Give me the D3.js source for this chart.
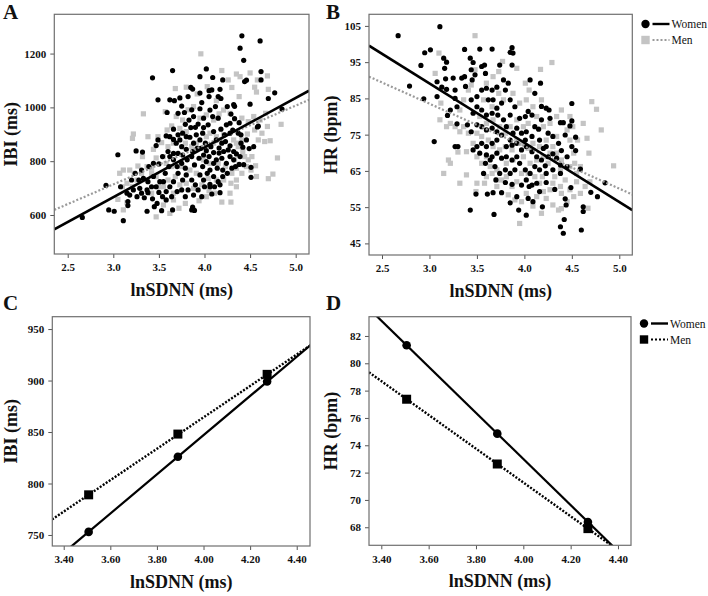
<!DOCTYPE html>
<html><head><meta charset="utf-8">
<script src="https://cdn.jsdelivr.net/npm/d3@7"></script>
<style>
body{margin:0;background:#fff;}
svg{display:block;font-family:"Liberation Serif","Times New Roman",serif;}
</style></head>
<body><svg id="c" width="708" height="596"></svg>
<script>
// ---------- DATA ----------
// Panel A: lnSDNN vs IBI (ms)
const womenA = [[2.66,591],[2.92,710],[2.95,619],[3.01,614],[3.05,824],[3.08,705],[3.11,579],[3.15,681],[3.16,650],[3.16,635],[3.25,838],[3.32,834],[3.37,614],[3.43,1110],[3.49,1028],[3.65,1137],[3.62,1028],[3.67,1025],[3.75,1005],[3.85,1074],[3.87,1068],[3.95,1114],[4.02,1143],[4.09,1111],[4.17,1067],[4.20,1102],[4.41,1266],[4.39,1220],[4.43,1175],[4.61,1247],[4.62,1133],[4.62,1102],[4.44,1096],[4.46,1101],[4.50,1012],[4.70,1033],[4.77,1054],[4.85,994],[4.59,930],[4.58,927],[4.49,847],[4.54,854],[4.51,740],[4.51,777],[4.43,787],[4.38,788],[4.08,678],[4.17,683],[4.06,714],[3.86,619],[3.89,617],[3.87,629],[3.65,619],[3.53,616],[3.48,643],[3.45,631],[3.43,660],[3.38,683],[3.34,664],
[3.59,981],[3.71,978],[3.78,981],[3.86,991],[3.95,995],[4.06,990],[4.09,966],[4.15,960],[4.18,1033],[4.05,1040],[4.08,1065],[4.05,1062],[4.29,975],[4.38,943],[4.33,958],[4.25,1003],[4.32,1010],[4.33,1004],[3.90,926],[3.93,938],[3.85,925],[3.79,937],[3.66,919],[3.62,891],[3.58,894],[3.49,879],[3.47,858],
[3.66,881],[3.69,867],[3.73,879],[3.75,854],[3.80,844],[3.84,889],[3.91,898],[3.95,879],[3.98,904],[4.01,867],[4.02,839],[4.07,854],[4.10,832],[4.13,879],[4.16,849],[4.19,867],[4.23,873],[4.28,857],[4.32,836],[4.35,827],[4.40,867],[4.42,852],[4.37,904],[4.28,904],[4.22,898],[4.18,919],[4.10,910],[4.04,935],[3.99,925],[3.88,867],[3.92,848],[3.60,836],[3.54,817],[3.50,790],[3.44,792],[3.39,780],[3.31,767],[3.24,755],[3.20,730],[3.28,730],[3.33,736],[3.38,724],[3.44,743],[3.47,705],[3.51,724],[3.57,755],[3.61,780],[3.66,805],[3.70,780],[3.75,792],[3.79,774],[3.81,805],[3.86,817],[3.89,786],[3.94,811],[3.98,780],[4.02,798],[4.06,767],[4.10,792],[4.14,774],[4.19,811],[4.24,792],[4.28,817],[4.32,805],[4.25,755],[4.20,743],[4.15,724],[4.10,743],[4.03,755],[3.99,730],[3.95,749],[3.90,712],[3.86,730],[3.80,749],[3.76,730],[3.71,755],[3.66,724],[3.62,705],[3.58,687],[3.54,668],[3.58,656],[3.64,668],[3.70,687],[3.75,693],[3.79,668],[3.82,693],[3.88,674],[3.93,693],[3.97,668],[4.00,705],[4.06,705],[4.11,705],[4.17,712],[4.20,767],[4.34,780],[4.39,817],[4.30,774],[3.42,705],[3.37,693],[3.31,681],[3.26,668],[3.29,699],[3.22,693],[3.18,674],[3.50,684],[3.55,724],[3.66,829],[3.71,829],[3.76,823],[3.62,817],[3.87,836],[3.96,848],[3.99,823],[4.05,817],[4.13,805],[4.16,830],[4.21,836],[4.26,842],[3.80,891],[3.76,904],[3.71,898],[3.83,953],[3.88,966],[3.99,960],[4.12,1003],[3.97,1018],[3.73,1035],[3.82,1040],[3.95,1053],[4.15,1040],[4.24,935],[4.28,941],[4.31,916],[4.40,898],[4.46,879]];
const menA = [[3.96,1199],[4.19,1137],[4.35,1124],[4.39,1114],[4.50,1128],[4.58,1102],[4.69,1117],[4.70,1067],[4.55,1075],[4.57,1057],[4.26,1102],[4.30,1074],[4.38,1040],[4.13,1025],[4.03,1077],[3.92,1050],[3.80,1075],[3.68,1070],[3.57,984],[3.33,976],[3.22,901],[3.21,885],[3.38,891],[3.49,891],[3.44,844],[3.53,869],[3.07,755],[3.11,767],[3.05,658],[3.11,619],[3.18,767],[3.23,755],[3.27,782],[3.32,817],[3.37,730],[3.42,774],[3.47,593],[3.47,812],[3.50,705],[3.55,637],[3.62,606],[3.66,656],[3.72,625],[3.79,643],[3.94,653],[4.05,690],[4.19,648],[4.29,648],[4.21,730],[4.29,718],[4.33,805],[4.35,774],[4.44,817],[4.48,805],[4.52,817],[4.56,783],[4.59,879],[4.63,904],[4.66,873],[4.72,876],[4.70,735],[4.75,752],[4.80,812],[4.84,937],[4.67,978],[4.69,929],[4.61,953],[4.54,966],[4.48,947],[4.41,960],[4.55,916],[4.47,901],[4.41,879],[4.35,867],[4.28,978],[4.21,990],[4.16,976],[4.10,953],[4.02,972],[3.95,960],[3.88,1003],[3.82,991],[3.76,953],[3.69,966],[3.64,931],[3.59,916],[3.73,922],[3.80,910],[4.02,891],[4.06,904],[4.13,891],[4.17,879],[4.21,898],[4.32,879],[4.37,854],[4.42,836],[4.10,867],[3.91,867],[3.86,854],[3.79,867],[3.66,867],[3.60,854],[3.55,817],[3.58,792],[3.64,780],[3.75,780],[3.84,767],[3.91,755],[3.99,805],[4.06,792],[4.15,792],[4.23,780],[4.30,755],[4.35,730],[4.41,755],[4.46,780],[4.51,767],[4.57,743],[4.13,730],[4.04,736],[3.97,712],[3.88,699],[3.80,718],[3.73,712],[3.68,743],[3.60,730],[3.55,705],[3.47,743],[3.42,755],[3.37,780],[3.31,755],[3.26,730],[3.21,705],[3.15,718],[3.10,705],[3.42,681],[3.66,681],[4.02,668],[4.11,681],[4.28,681],[4.35,705],[3.15,646]];
const fitA_x = [2.353, 5.146];
const fitA_women = [547, 1062];
const fitA_men = [619, 1028];

// Panel B: lnSDNN vs HR (bpm)
const womenB = [[2.67,102.3],[2.79,88.4],[2.91,94.1],[2.94,84.9],[2.95,97.6],[3.01,98.4],[3.11,104.8],[3.05,73.1],[3.08,89.6],[3.08,85.5],[3.13,88.1],[3.15,96.1],[3.16,93.3],[3.18,95.0],[3.17,90.4],[3.18,87.5],[3.19,80.3],[3.22,81.8],[3.25,90.6],[3.27,87.3],[3.27,85.0],[3.29,82.7],[3.29,78.0],[3.27,71.7],[3.30,71.7],[3.37,98.5],[3.34,90.6],[3.37,91.0],[3.38,88.3],[3.43,96.1],[3.44,92.9],[3.46,94.9],[3.45,90.1],[3.48,91.5],[3.53,98.6],[3.55,93.8],[3.58,94.2],[3.59,91.9],[3.66,98.6],[3.49,58.6],[3.43,54.2],[3.61,58.6],[3.67,59.0],[3.68,53.0],[3.70,62.5],[3.76,59.0],[3.80,61.8],[3.85,56.2],[3.87,61.3],[3.94,54.2],[3.97,61.1],[4.02,52.8],[4.04,57.4],[4.05,60.7],[4.09,56.5],[4.13,61.6],[4.16,59.3],[4.19,55.1],[4.22,66.4],[4.32,59.9],[4.38,49.6],[4.41,47.8],[4.43,57.3],[4.42,51.6],[4.44,55.6],[4.49,60.4],[4.50,71.7],[4.54,74.3],[4.50,78.8],[4.50,83.6],[4.59,65.5],[4.60,48.7],[4.62,55.1],[4.62,53.8],[4.70,59.1],[4.77,57.9],[4.48,77.4],[4.41,78.3],[4.38,78.3],[4.43,74.9],[4.39,70.6],[4.36,72.6],[4.30,69.7],[4.25,68.9],[4.20,71.2],[4.16,73.5],[4.15,76.5],[4.11,77.2],[4.18,79.1],[4.23,82.3],[4.26,81.8],[4.27,79.5],[4.17,89.2],[4.06,90.1],[4.11,86.4],[4.18,82.8],[4.08,80.4],[4.04,81.4],[4.01,80.0],[3.95,79.5],[3.92,76.8],[3.88,75.4],[3.85,73.5],[3.81,71.7],[3.81,77.2],[3.78,79.1],[3.85,80.4],[3.90,82.7],[3.85,84.6],[3.80,87.3],[3.83,89.2],[3.78,90.1],[3.87,94.2],[3.85,97.7],[3.87,99.0],[3.88,97.5],[3.74,94.2],[3.71,88.1],[3.66,87.3],[3.62,84.6],[3.67,84.6],[3.71,82.3],[3.76,83.7],[3.72,80.4],[3.66,80.9],[3.60,80.4],[3.55,81.8],[3.50,82.7],[3.46,80.9],[3.44,84.6],[3.50,85.5],[3.55,87.3],[3.60,87.8],[3.40,77.7],[3.44,75.8],[3.50,77.7],[3.55,77.2],[3.60,76.3],[3.66,76.8],[3.71,75.8],[3.76,74.9],[3.71,73.5],[3.66,72.6],[3.60,71.7],[3.55,72.6],[3.50,71.7],[3.46,70.8],[3.53,69.9],[3.60,69.4],[3.66,68.9],[3.71,69.9],[3.76,68.5],[3.81,68.9],[3.87,68.0],[3.92,68.9],[3.97,70.8],[4.02,71.7],[4.08,70.3],[4.13,68.9],[4.18,68.0],[4.01,73.5],[3.97,75.4],[4.02,75.8],[4.08,74.5],[3.95,67.1],[4.01,65.3],[4.06,64.3],[4.11,66.2],[4.16,65.3],[4.23,64.3],[4.30,65.3],[4.38,66.6],[4.45,66.2],[3.90,65.3],[3.85,64.3],[3.80,65.3],[3.74,64.3],[3.69,66.2],[3.64,68.0],[3.59,67.1],[3.57,64.3],[4.02,62.5],[4.08,61.1],[4.23,61.8],[3.92,57.9],[3.87,72.1],[3.92,72.6],[4.25,75.4],[4.30,74.5],[4.23,71.7],[4.34,68.5],[4.45,68.9],[4.54,70.6],[4.38,64.3],[4.85,61.7]];
const menB = [[3.48,102.3],[3.10,97.5],[3.06,91.9],[3.12,83.7],[3.11,79.1],[3.20,68.0],[3.22,67.1],[3.15,64.3],[3.32,61.6],[3.39,63.9],[3.49,59.3],[3.30,70.2],[3.39,70.3],[3.50,61.6],[3.58,61.6],[3.71,60.7],[3.83,58.4],[3.95,50.5],[4.02,58.8],[4.09,55.3],[4.18,53.3],[4.23,57.4],[4.30,55.6],[4.36,54.2],[4.39,54.6],[4.45,56.5],[4.52,57.9],[4.59,58.8],[4.67,54.7],[4.64,60.7],[4.69,62.0],[4.68,69.9],[4.66,74.0],[4.62,78.1],[4.71,84.1],[4.76,82.0],[4.81,76.3],[4.94,66.4],[4.48,80.0],[4.51,77.2],[4.56,73.5],[4.52,69.9],[4.48,66.2],[4.55,64.3],[4.59,66.2],[4.43,62.5],[4.38,60.7],[4.30,61.6],[4.25,67.1],[4.19,63.4],[4.16,61.6],[4.11,63.4],[4.04,64.3],[3.97,64.3],[3.92,62.0],[3.87,60.7],[3.81,63.4],[3.76,62.5],[3.71,65.3],[3.66,64.3],[3.64,66.2],[3.60,68.9],[3.55,67.1],[3.50,68.9],[3.46,72.6],[3.41,75.4],[3.36,77.2],[3.32,75.8],[3.27,77.2],[3.22,78.1],[3.18,77.2],[3.32,81.8],[3.36,84.6],[3.41,87.3],[3.44,88.7],[3.48,92.9],[3.60,89.2],[3.67,91.0],[3.73,92.4],[3.77,95.2],[3.92,93.3],[4.01,89.2],[4.05,87.3],[4.17,93.0],[4.29,94.9],[4.18,84.6],[4.09,82.7],[4.02,84.6],[3.95,83.7],[3.88,86.4],[3.78,84.6],[3.73,86.4],[3.66,82.7],[3.57,84.6],[3.53,80.0],[3.60,78.1],[3.67,79.1],[3.74,77.2],[3.80,75.4],[3.85,77.2],[3.92,79.1],[3.99,77.2],[4.04,78.1],[4.13,80.0],[4.20,77.2],[4.27,78.1],[4.34,80.0],[4.39,81.8],[4.45,76.3],[4.34,74.5],[4.30,71.7],[4.23,73.5],[4.16,71.7],[4.09,72.6],[4.04,71.2],[3.97,72.6],[3.92,73.5],[3.87,70.8],[3.80,71.7],[3.74,70.8],[3.67,71.7],[3.62,73.5],[3.55,74.5],[3.50,75.4],[3.81,67.1],[3.88,68.0],[3.99,68.9],[4.06,67.1],[4.13,68.0],[4.20,68.9],[4.27,69.9],[4.34,69.9],[4.39,68.0],[4.38,65.3],[4.32,63.4],[4.27,59.8],[4.20,59.3],[4.13,57.9],[3.97,56.5],[3.90,57.0],[3.71,62.5],[3.60,63.4],[4.48,73.5],[4.53,67.1],[4.55,62.0],[4.48,59.8],[4.39,58.8]];
const fitB_x = [2.363, 5.137];
const fitB_women = [99.56, 54.2];
const fitB_men = [91.0, 58.5];

// Panel C: estimated IBI at -1SD, mean, +1SD of lnSDNN
const levels = [3.507, 3.89, 4.273];
const womenC = [753, 826, 899];
const menC = [789, 848, 906];
const fitC_x = [3.35, 4.46];
const fitC_women = [723.2, 934.5];
const fitC_men = [765.1, 934.4];

// Panel D: estimated HR
const womenD = [81.32, 74.85, 68.39];
const menD = [77.37, 72.63, 67.9];
const fitD_x = [3.348, 4.455];
const fitD_women = [84.0, 65.32];
const fitD_men = [79.34, 65.65];

// tick labels
const ticksAx = [2.5, 3.0, 3.5, 4.0, 4.5, 5.0];
const ticksAy = [600, 800, 1000, 1200];
const ticksBy = [45, 55, 65, 75, 85, 95, 105];
const ticksCx = [3.4, 3.6, 3.8, 4.0, 4.2, 4.4];
const ticksCy = [750, 800, 850, 900, 950];
const ticksDy = [68, 70, 72, 74, 76, 78, 80, 82];
const legendLabels = ["Women", "Men"];

// ---------- DRAW ----------
const svg = d3.select("#c");
const FONT = '"Liberation Serif","Times New Roman",serif';

function panel(opts) {
  const {id, box, xd, yd, xt, yt, xfmt, ytitle, ytitleX, letter, letterPos} = opts;
  const [L, T, R, B] = box;
  const x = d3.scaleLinear().domain(xd).range([L, R]);
  const y = d3.scaleLinear().domain(yd).range([B, T]);
  const g = svg.append("g");
  g.append("clipPath").attr("id", "clip" + id).append("rect")
    .attr("x", L).attr("y", T).attr("width", R - L).attr("height", B - T);
  const xa = g.append("g").attr("transform", `translate(0,${B})`)
    .call(d3.axisBottom(x).tickValues(xt).tickFormat(d3.format(xfmt)).tickSize(4).tickSizeOuter(0));
  const ya = g.append("g").attr("transform", `translate(${L},0)`)
    .call(d3.axisLeft(y).tickValues(yt).tickFormat(d3.format("d")).tickSize(4).tickSizeOuter(0));
  [xa, ya].forEach(a => {
    a.attr("font-family", null);
    a.select(".domain").remove();
    a.selectAll("line").attr("stroke", "#555");
    a.selectAll("text").style("font-family", FONT).style("font-weight", "bold")
      .style("font-size", "11px").attr("fill", "#111");
  });
  xa.selectAll("text").attr("dy", "0.95em");
  ya.selectAll("text").attr("dx", "-1px");
  const plot = g.append("g").attr("clip-path", `url(#clip${id})`);
  g.append("rect").attr("x", L).attr("y", T).attr("width", R - L).attr("height", B - T)
    .attr("fill", "none").attr("stroke", "#6f6f6f").attr("stroke-width", 1.2);
  g.append("text").attr("x", (L + R) / 2).attr("y", B + 42).attr("text-anchor", "middle")
    .style("font-family", FONT).style("font-weight", "bold").style("font-size", "18px").attr("fill", "#111")
    .text("lnSDNN (ms)");
  g.append("text").attr("transform", `translate(${ytitleX},${(T + B) / 2}) rotate(-90)`)
    .attr("text-anchor", "middle").style("font-family", FONT).style("font-weight", "bold")
    .style("font-size", "18px").attr("fill", "#111").text(ytitle);
  g.append("text").attr("x", letterPos[0]).attr("y", letterPos[1])
    .style("font-family", FONT).style("font-weight", "bold").style("font-size", "21px").attr("fill", "#111")
    .text(letter);
  return {x, y, plot};
}

function scatter(p, women, men, fx, fw, fm) {
  p.plot.append("g").selectAll("rect").data(men).join("rect")
    .attr("x", d => p.x(d[0]) - 2.6).attr("y", d => p.y(d[1]) - 2.6)
    .attr("width", 5.2).attr("height", 5.2).attr("fill", "#c4c4c4");
  p.plot.append("g").selectAll("circle").data(women).join("circle")
    .attr("cx", d => p.x(d[0])).attr("cy", d => p.y(d[1])).attr("r", 2.6).attr("fill", "#000");
  const line = d3.line().x(d => p.x(d[0])).y(d => p.y(d[1]));
  p.plot.append("path").attr("d", line(d3.zip(fx, fm))).attr("fill", "none")
    .attr("stroke", "#9a9a9a").attr("stroke-width", 2.2).attr("stroke-dasharray", "2,2");
  p.plot.append("path").attr("d", line(d3.zip(fx, fw))).attr("fill", "none")
    .attr("stroke", "#000").attr("stroke-width", 2.6);
}

function means(p, wv, mv, fx, fw, fm) {
  const line = d3.line().x(d => p.x(d[0])).y(d => p.y(d[1]));
  p.plot.append("path").attr("d", line(d3.zip(fx, fm))).attr("fill", "none")
    .attr("stroke", "#000").attr("stroke-width", 2.4).attr("stroke-dasharray", "2,1.6");
  p.plot.append("path").attr("d", line(d3.zip(fx, fw))).attr("fill", "none")
    .attr("stroke", "#000").attr("stroke-width", 2.2);
  p.plot.append("g").selectAll("rect").data(d3.zip(levels, mv)).join("rect")
    .attr("x", d => p.x(d[0]) - 4.5).attr("y", d => p.y(d[1]) - 4.5)
    .attr("width", 9).attr("height", 9).attr("fill", "#000");
  p.plot.append("g").selectAll("circle").data(d3.zip(levels, wv)).join("circle")
    .attr("cx", d => p.x(d[0])).attr("cy", d => p.y(d[1])).attr("r", 4.3).attr("fill", "#000");
}

function legend(x0, y0, menColor, menDash) {
  const g = svg.append("g");
  legendLabels.forEach((lab, i) => {
    const yy = y0 + i * 16;
    if (i === 0) g.append("circle").attr("cx", x0).attr("cy", yy).attr("r", 4.2).attr("fill", "#000");
    else g.append("rect").attr("x", x0 - 4.2).attr("y", yy - 4.2).attr("width", 8.4).attr("height", 8.4).attr("fill", menColor);
    g.append("line").attr("x1", x0 + 7).attr("x2", x0 + 24).attr("y1", yy).attr("y2", yy)
      .attr("stroke", i === 0 ? "#000" : menDash.color).attr("stroke-width", i === 0 ? 2.4 : 2.2)
      .attr("stroke-dasharray", i === 0 ? null : "2,2");
    g.append("text").attr("x", x0 + 26).attr("y", yy + 4).style("font-family", FONT)
      .style("font-size", "11.5px").attr("fill", "#111").text(lab);
  });
}

const pA = panel({id: "A", box: [54.3, 14.3, 309, 254], xd: [2.353, 5.146], yd: [455, 1346],
  xt: ticksAx, yt: ticksAy, xfmt: ".1f", ytitle: "IBI (ms)", ytitleX: 17, letter: "A", letterPos: [3, 19]});
scatter(pA, womenA, menA, fitA_x, fitA_women, fitA_men);

const pB = panel({id: "B", box: [369, 14.3, 632.3, 255], xd: [2.363, 5.137], yd: [41.8, 108.2],
  xt: ticksAx, yt: ticksBy, xfmt: ".1f", ytitle: "HR (bpm)", ytitleX: 337, letter: "B", letterPos: [326, 19]});
scatter(pB, womenB, menB, fitB_x, fitB_women, fitB_men);

const pC = panel({id: "C", box: [52.3, 316.7, 310, 546], xd: [3.351, 4.457], yd: [739.3, 962],
  xt: ticksCx, yt: ticksCy, xfmt: ".2f", ytitle: "IBI (ms)", ytitleX: 17, letter: "C", letterPos: [3, 310]});
means(pC, womenC, menC, fitC_x, fitC_women, fitC_men);

const pD = panel({id: "D", box: [369, 316.7, 631, 545.3], xd: [3.348, 4.455], yd: [66.68, 83.41],
  xt: ticksCx, yt: ticksDy, xfmt: ".2f", ytitle: "HR (bpm)", ytitleX: 337, letter: "D", letterPos: [326, 310]});
means(pD, womenD, menD, fitD_x, fitD_women, fitD_men);

legend(645.5, 24, "#c4c4c4", {color: "#9a9a9a"});
legend(644, 323.5, "#000", {color: "#000"});
</script></body></html>
